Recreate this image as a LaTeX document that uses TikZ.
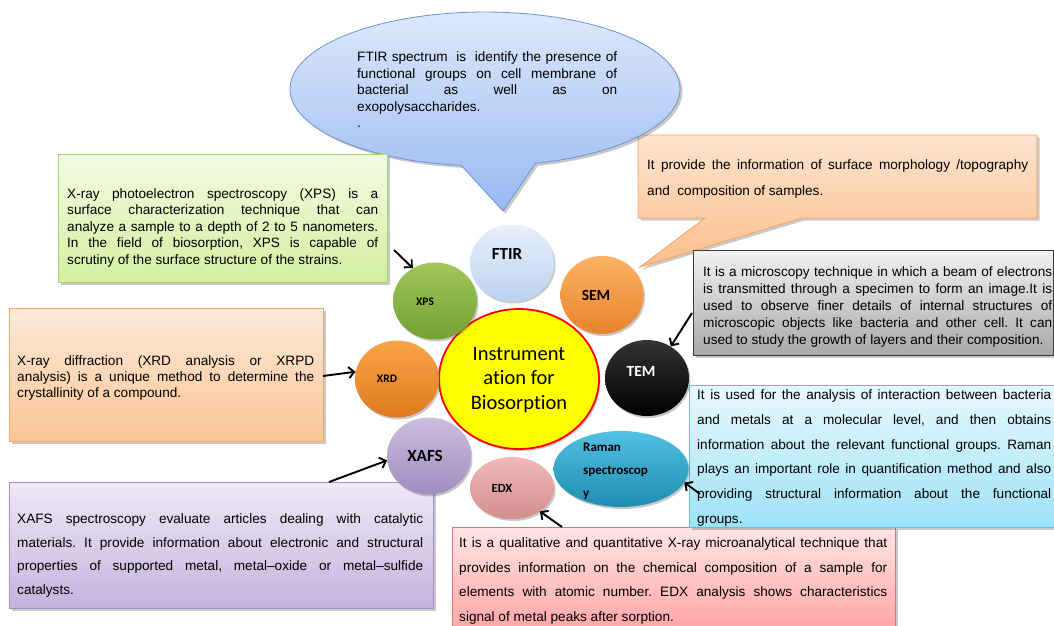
\documentclass[tikz,border=0pt]{standalone}
\usepackage{fontspec}
\setmainfont{Liberation Sans}
\newfontfamily\calib[Ligatures=NoCommon]{Carlito}
\usetikzlibrary{shapes.geometric,shadows,arrows.meta}
\newcommand\justline[1]{\hbox to\hsize{#1}}
\newcommand\textblock[2]{\vtop{\hsize=#1\relax #2}}
\definecolor{ftirT}{HTML}{DDE8FB}\definecolor{ftirM}{HTML}{98B9F0}\definecolor{ftirD}{HTML}{6A93D6}
\definecolor{semT}{HTML}{FDE4CF}\definecolor{semM}{HTML}{FBBF8C}\definecolor{semD}{HTML}{F5A35E}
\definecolor{xpsT}{HTML}{F3FBE3}\definecolor{xpsM}{HTML}{D4EFA0}\definecolor{xpsD}{HTML}{A8D46C}
\definecolor{temT}{HTML}{F2F2F2}\definecolor{temM}{HTML}{A8A8A8}\definecolor{temD}{HTML}{3A3A3A}
\definecolor{xrdT}{HTML}{FDEADA}\definecolor{xrdM}{HTML}{FBC594}\definecolor{xrdD}{HTML}{F4A766}
\definecolor{ramT}{HTML}{E9F8FD}\definecolor{ramM}{HTML}{9EE2F7}\definecolor{ramD}{HTML}{5DBFE0}
\definecolor{xafT}{HTML}{EFE9F6}\definecolor{xafM}{HTML}{C4B2DE}\definecolor{xafD}{HTML}{A58DC9}
\definecolor{edxT}{HTML}{FFE4E4}\definecolor{edxM}{HTML}{FF9E9E}\definecolor{edxD}{HTML}{D67878}
\definecolor{cFtirT}{HTML}{E8F0FB}\definecolor{cFtirB}{HTML}{BCD2F1}
\definecolor{cSemT}{HTML}{FBB263}\definecolor{cSemB}{HTML}{E8842A}
\definecolor{cXpsT}{HTML}{A0C75A}\definecolor{cXpsB}{HTML}{74A034}
\definecolor{cXrdT}{HTML}{F9A547}\definecolor{cXrdB}{HTML}{DE7A20}
\definecolor{cXafT}{HTML}{CBBDDE}\definecolor{cXafB}{HTML}{A08DC0}
\definecolor{cEdxT}{HTML}{F0B8B8}\definecolor{cEdxB}{HTML}{D48D8D}
\definecolor{cRamT}{HTML}{52C0E2}\definecolor{cRamB}{HTML}{1E8DB0}
\begin{document}
\begin{tikzpicture}[x=1pt,y=-1pt,
  shadowed/.style={drop shadow={shadow xshift=2.5pt,shadow yshift=-2.5pt,opacity=0.35,fill=black!60}},
  softshadow/.style={drop shadow={shadow xshift=1.5pt,shadow yshift=-2pt,opacity=0.3,fill=black!70}},
  panel/.style={rectangle, inner sep=0pt, anchor=north west, line width=0.8pt, shadowed},
  bodytext/.style={inner sep=0pt, anchor=base west, font=\fontsize{13.6}{#1}\selectfont\frenchspacing},
  disc/.style={ellipse, inner sep=0pt, softshadow},
  lbl/.style={inner sep=0pt, font=\calib\bfseries\fontsize{#1}{#1}\selectfont},
  arr/.style={-{Straight Barb[length=5.5pt,width=11pt]}, line width=1.9pt, black},
]
\clip (0,0) rectangle (1054,625);
\fill[white] (0,0) rectangle (1054,625);

% ---------- SEM callout ----------
\path[draw=semD, line width=0.8pt, top color=semT, bottom color=semM, shadowed]
  (638,135) -- (1037,135) -- (1037,218) -- (802,218) -- (640,267) -- (705,218) -- (638,218) -- cycle;
\node[bodytext=25.7] (semtext) at (647,169.5) {\textblock{381pt}{%
\justline{It provide the information of surface morphology /topography}
\hbox{and\ \ composition of samples.}}};

% ---------- FTIR callout ----------
\path[draw=ftirD, line width=0.8pt, top color=ftirT, bottom color=ftirM, shadowed]
  (503,211) -- (535,164) -- plot[domain=75:-263, samples=140, variable=\t] ({485+195*cos(\t)},{89+77*sin(\t)}) -- cycle;
\node[bodytext=16.5] (ftirtext) at (357,61.5) {\textblock{260pt}{%
\justline{FTIR spectrum\ \ is\ \ identify the presence of}
\justline{functional groups on cell membrane of}
\justline{bacterial as well as on}
\hbox{exopolysaccharides.}
\hbox{.}}};

% ---------- XPS box ----------
\node[panel, draw=xpsD, top color=xpsT, bottom color=xpsM, minimum width=329pt, minimum height=128pt] (xpsbox) at (58,154) {};
\node[bodytext=16.4] (xpstext) at (67,198.5) {\textblock{311pt}{%
\justline{X-ray photoelectron spectroscopy (XPS) is a}
\justline{surface characterization technique that can}
\justline{analyze a sample to a depth of 2 to 5 nanometers.}
\justline{In the field of biosorption, XPS is capable of}
\hbox{scrutiny of the surface structure of the strains.}}};

% ---------- TEM box ----------
\node[panel, draw=temD, top color=temT, bottom color=temM, minimum width=360pt, minimum height=105pt] (tembox) at (693,250) {};
\node[bodytext=17] (temtext) at (703,276.5) {\textblock{349pt}{%
\justline{It is a microscopy technique in which a beam of electrons}
\justline{is transmitted through a specimen to form an image.It is}
\justline{used to observe finer details of internal structures of}
\justline{microscopic objects like bacteria and other cell. It can}
\hbox{used to study the growth of layers and their composition.}}};

% ---------- XRD box ----------
\node[panel, draw=xrdD, top color=xrdT, bottom color=xrdM, minimum width=314pt, minimum height=133pt] (xrdbox) at (9,308) {};
\node[bodytext=16] (xrdtext) at (17,365.5) {\textblock{297pt}{%
\justline{X-ray diffraction (XRD analysis or XRPD}
\justline{analysis) is a unique method to determine the}
\hbox{crystallinity of a compound.}}};

% ---------- XAFS box ----------
\node[panel, draw=xafD, top color=xafT, bottom color=xafM, minimum width=424pt, minimum height=126pt] (xafsbox) at (9,482) {};
\node[bodytext=23.5] (xafstext) at (17,523.5) {\textblock{406pt}{%
\justline{XAFS spectroscopy evaluate articles dealing with catalytic}
\justline{materials. It provide information about electronic and structural}
\justline{properties of supported metal, metal--oxide or metal--sulfide}
\hbox{catalysts.}}};

% ---------- EDX box ----------
\node[panel, draw=edxD, top color=edxT, bottom color=edxM, minimum width=443pt, minimum height=115pt] (edxbox) at (452,527) {};
\node[bodytext=24.5] (edxtext) at (459,547.5) {\textblock{428pt}{%
\justline{It is a qualitative and quantitative X-ray microanalytical technique that}
\justline{provides information on the chemical composition of a sample for}
\justline{elements with atomic number. EDX analysis shows characteristics}
\hbox{signal of metal peaks after sorption.}}};

% ---------- Raman box ----------
\node[panel, draw=ramD, top color=ramT, bottom color=ramM, minimum width=366pt, minimum height=142pt] (ramanbox) at (689,385) {};
\node[bodytext=24.8] (ramantext) at (697,399.5) {\textblock{354pt}{%
\justline{It is used for the analysis of interaction between bacteria}
\justline{and metals at a molecular level, and then obtains}
\justline{information about the relevant functional groups. Raman}
\justline{plays an important role in quantification method and also}
\justline{providing structural information about the functional}
\hbox{groups.}}};

% ---------- circles ----------
\node[disc, top color=yellow, bottom color=yellow, draw=red, line width=1.8pt, minimum width=160pt, minimum height=140pt] (center) at (519,379) {};
\node[disc, top color=cFtirT, bottom color=cFtirB, minimum width=84pt, minimum height=77pt] (ftir) at (512,263) {};
\node[disc, top color=cSemT, bottom color=cSemB, minimum width=83pt, minimum height=78pt] (sem) at (602,295) {};
\node[disc, top color=cXpsT, bottom color=cXpsB, minimum width=84pt, minimum height=77pt] (xps) at (435,301) {};
\node[disc, top color=cXrdT, bottom color=cXrdB, minimum width=84pt, minimum height=77pt] (xrd) at (397,379) {};
\node[disc, top color=black!80, bottom color=black, minimum width=84pt, minimum height=76pt] (tem) at (647,378) {};
\node[disc, top color=cXafT, bottom color=cXafB, minimum width=84pt, minimum height=77pt] (xafs) at (429,456) {};
\node[disc, top color=cEdxT, bottom color=cEdxB, minimum width=84pt, minimum height=62pt] (edx) at (512,488) {};
\node[disc, top color=cRamT, bottom color=cRamB, minimum width=135pt, minimum height=76pt] (raman) at (621,469) {};

% ---------- labels ----------
\node[inner sep=0pt, align=center, font=\calib\fontsize{20.5}{24.5}\selectfont] (centertext) at (519,380) {Instrument\\ation for\\Biosorption};
\node[lbl=17] (ftirL) at (507,254) {FTIR};
\node[lbl=15.5] (semL) at (596,295) {SEM};
\node[lbl=11.5] (xpsL) at (425,302) {XPS};
\node[lbl=11.5] (xrdL) at (387,379) {XRD};
\node[lbl=15.5, white] (temL) at (641,371) {TEM};
\node[lbl=17] (xafsL) at (425,456) {XAFS};
\node[lbl=12.5] (edxL) at (502,488) {EDX};
\node[inner sep=0pt, anchor=base west, align=left, font=\calib\bfseries\fontsize{13}{22.7}\selectfont] (ramanL) at (583,497) {Raman\\spectroscop\\y};

% ---------- arrows ----------
\coordinate (aXps) at (394,250);
\coordinate (aTem) at (692,313);
\coordinate (aXrd) at (323,376);
\coordinate (aRam) at (700,494);
\coordinate (aXaf) at (329,482);
\coordinate (aEdx) at (562,527);
\draw[arr] (aXps) -- (xps.124);
\draw[arr] (aTem) -- (tem.53);
\draw[arr] (aXrd) -- (xrd.170);
\draw[arr] (aRam) -- (raman.-12);
\draw[arr] (aXaf) -- (xafs.186);
\draw[arr] (aEdx) -- (edx.-40);
\end{tikzpicture}
\end{document}
